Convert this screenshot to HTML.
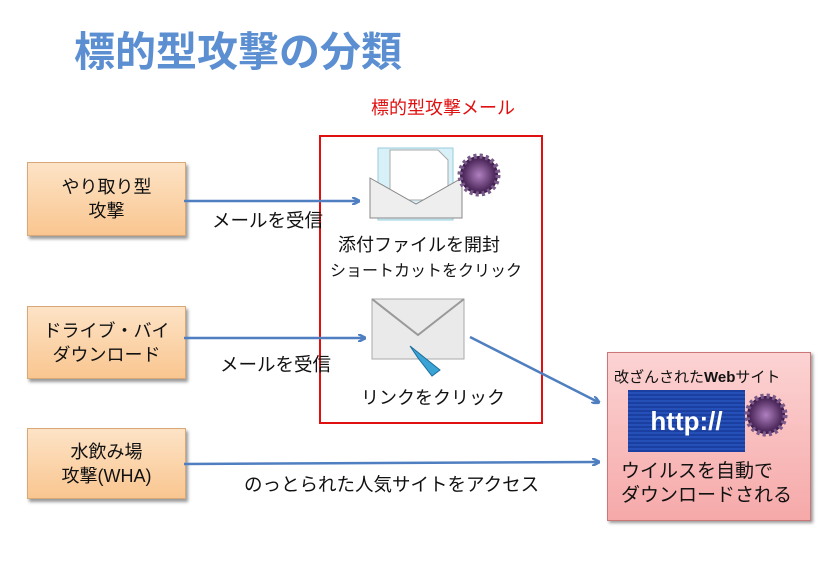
<!DOCTYPE html>
<html><head><meta charset="utf-8"><style>
body{margin:0;width:817px;height:564px;background:#fff;position:relative;overflow:hidden;font-family:"Liberation Sans","Noto Sans CJK JP",sans-serif;}
.a{position:absolute;}
.box{position:absolute;left:27px;width:157px;background:linear-gradient(#fde3c6,#f9c690);border:1px solid #d8a878;box-shadow:2px 3px 3px #999;font-size:18px;text-align:center;line-height:24px;display:flex;align-items:center;justify-content:center;color:#111;}
.t{position:absolute;font-size:17px;color:#111;white-space:nowrap;}
</style></head><body>
<div class="a" style="left:74px;top:18px;font-size:41px;font-weight:bold;color:#5b8fd1;font-family:'Noto Sans CJK JP',sans-serif;">標的型攻撃の分類</div>
<div class="t" style="left:371px;top:94px;color:#e01010;font-size:18px;">標的型攻撃メール</div>
<div class="a" style="left:319px;top:135px;width:220px;height:285px;border:2px solid #e01010;"></div>
<div class="box" style="top:162px;height:72px;">やり取り型<br>攻撃</div>
<div class="box" style="top:306px;height:71px;">ドライブ・バイ<br>ダウンロード</div>
<div class="box" style="top:428px;height:69px;">水飲み場<br>攻撃(WHA)</div>
<div class="a" style="left:607px;top:352px;width:202px;height:167px;background:linear-gradient(#fcd3d3,#f6a9a9);border:1px solid #c77;box-shadow:2px 2px 3px #999;"></div>
<div class="t" style="left:614px;top:366px;font-size:15px;">改ざんされた<b>Web</b>サイト</div>
<div class="a" style="left:628px;top:390px;width:117px;height:62px;background:repeating-linear-gradient(#1a3fa0 0 2px,#2450b8 2px 4px);color:#fff;font-weight:bold;font-size:26px;line-height:62px;text-align:center;">http://</div>
<div class="t" style="left:621px;top:460px;font-size:19px;line-height:24px;">ウイルスを自動で<br>ダウンロードされる</div>
<svg class="a" style="left:0;top:0" width="817" height="564">
<defs><marker id="m" markerWidth="8" markerHeight="8" refX="6" refY="4" orient="auto" markerUnits="userSpaceOnUse"><path d="M0,0 L8,4 L0,8" fill="none" stroke="#4f7fc0" stroke-width="2.5"/></marker>
<radialGradient id="v"><stop offset="0" stop-color="#b080c0"/><stop offset="1" stop-color="#3a1848"/></radialGradient></defs>
<g stroke="#4f7fc0" stroke-width="2.5" fill="none" marker-end="url(#m)">
<line x1="184" y1="201" x2="358" y2="201"/>
<line x1="184" y1="338" x2="364" y2="338"/>
<line x1="470" y1="337" x2="598" y2="402"/>
<line x1="184" y1="464" x2="598" y2="462"/>
</g>
<rect x="378" y="148" width="75" height="72" fill="#d8f0f8" stroke="#9cd"/>
<path d="M390,150 h48 l10,10 v40 h-58z" fill="#fff" stroke="#aaa"/>
<path d="M370,178 L416,204 L462,178 V218 H370Z" fill="#eee" stroke="#888"/>
<circle cx="479" cy="175" r="19" fill="url(#v)" stroke="#7a5a8a" stroke-width="5" stroke-dasharray="3 3"/>
<rect x="372" y="299" width="92" height="60" fill="#eaeaea" stroke="#aaa"/>
<path d="M372,299 L418,335 L464,299" fill="none" stroke="#999" stroke-width="2"/>
<path d="M410,346 L440,370 L432,376 L418,358 Z" fill="#3ba4d4" stroke="#1a6e9e"/>
<circle cx="766" cy="415" r="19" fill="url(#v)" stroke="#7a5a8a" stroke-width="5" stroke-dasharray="3 3"/>
</svg>
<div class="t" style="left:212px;top:207px;font-size:18.5px;">メールを受信</div>
<div class="t" style="left:338px;top:231px;font-size:18px;">添付ファイルを開封</div>
<div class="t" style="left:330px;top:257px;font-size:16px;">ショートカットをクリック</div>
<div class="t" style="left:220px;top:351px;font-size:18.5px;">メールを受信</div>
<div class="t" style="left:361px;top:384px;font-size:18px;">リンクをクリック</div>
<div class="t" style="left:244px;top:471px;font-size:18.5px;">のっとられた人気サイトをアクセス</div>
</body></html>
